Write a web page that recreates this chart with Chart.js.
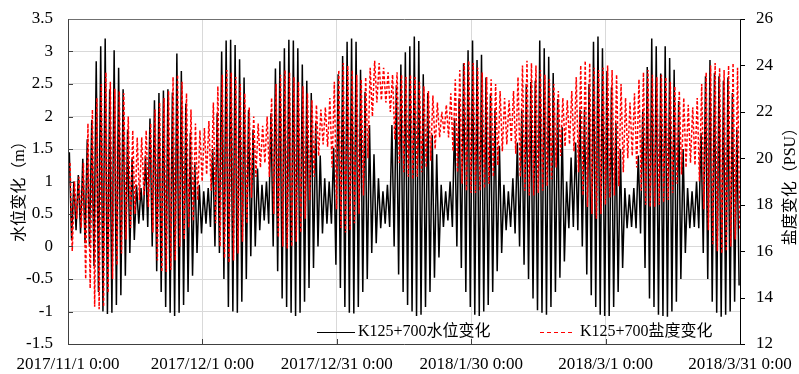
<!DOCTYPE html>
<html>
<head>
<meta charset="utf-8">
<script src="https://cdn.jsdelivr.net/npm/chart.js@4.4.0/dist/chart.umd.min.js"></script>
<style>
  html, body { margin: 0; padding: 0; background: #fff; }
  #wrap { width: 799px; height: 374px; }
</style>
</head>
<body>
<div id="wrap"><canvas id="tide" width="799" height="374"></canvas></div>
<script>
// x ticks every 30 days from 2017/11/1
const dateLabels = ['2017/11/1 0:00', '2017/12/1 0:00', '2017/12/31 0:00',
  '2018/1/30 0:00', '2018/3/1 0:00', '2018/3/31 0:00'];

const levelName = 'K125+700水位变化';
const salinityName = 'K125+700盐度变化';

// daily high / low water level (m), day 0 = 2017/11/1
const levelHigh = [
  1.45, 1.0, 1.1, 1.35, 1.65, 1.95, 2.85, 3.08, 3.2, 2.42,
  3.02, 2.75, 2.42, 1.8, 1.35, 0.95, 0.9, 1.4, 1.97, 2.25,
  2.36, 2.4, 2.42, 2.37, 2.97, 2.7, 2.2, 1.75, 1.3, 0.95,
  0.85, 0.9, 1.5, 2.05, 3.0, 3.17, 3.18, 3.1, 2.88, 2.6,
  2.1, 1.8, 1.2, 0.95, 1.0, 2.05, 2.74, 2.85, 3.05, 3.18,
  3.17, 3.05, 2.8, 2.55, 2.36, 1.9, 1.4, 1.05, 1.0, 1.52,
  2.65, 2.93, 3.15, 3.2, 3.15, 2.72, 2.38, 1.87, 1.42, 1.05,
  0.85, 0.95, 1.87, 2.48, 2.8, 2.99, 3.08, 3.23, 3.16, 2.65,
  2.36, 1.72, 1.42, 0.95, 0.85, 1.0, 1.97, 2.28, 2.82, 3.02,
  3.17, 2.87, 2.95, 2.6, 2.35, 2.1, 1.55, 0.95, 0.85, 1.05,
  1.6, 2.1, 2.5, 2.53, 2.55, 3.17, 3.05, 2.92, 2.67, 2.27,
  1.84, 1.0, 1.37, 1.6, 2.1, 2.1, 2.5, 3.15, 3.23, 3.05,
  2.7, 2.45, 1.9, 1.5, 0.9, 0.8, 0.9, 1.4, 2.1, 2.76,
  3.2, 3.08, 2.66, 3.08, 2.9, 2.72, 2.24, 1.5, 0.9, 0.85,
  1.0, 1.75, 2.62, 2.87, 2.67, 2.62, 2.55, 2.6, 2.36, 1.8
];
const levelLow = [
  0.1, 0.25, 0.2, 0.05, 0.0, -0.3, -0.7, -1.0, -1.04, -1.02,
  -0.9, -0.75, -0.45, -0.1, 0.1, 0.35, 0.4, 0.3, 0.0, -0.38,
  -0.7, -0.93, -1.02, -1.07, -1.02, -0.9, -0.7, -0.45, -0.1, 0.2,
  0.35, 0.3, 0.0, -0.1, -0.5, -0.93, -1.0, -1.02, -0.85, -0.5,
  -0.15, 0.0, 0.25, 0.4, 0.35, 0.0, -0.38, -0.8, -0.93, -1.02,
  -1.07, -1.02, -0.85, -0.64, -0.33, 0.0, 0.2, 0.35, 0.35, -0.28,
  -0.64, -0.93, -1.02, -1.03, -0.93, -0.7, -0.5, -0.1, 0.05, 0.28,
  0.35, 0.3, 0.0, -0.43, -0.7, -0.9, -1.0, -1.07, -1.05, -0.93,
  -0.7, -0.48, -0.17, 0.3, 0.4, 0.3, 0.0, -0.33, -0.7, -0.93,
  -1.05, -1.07, -1.0, -0.9, -0.7, -0.38, -0.1, 0.25, 0.3, 0.2,
  0.0, -0.28, -0.5, -0.8, -0.98, -1.02, -1.05, -0.93, -0.7, -0.48,
  -0.23, 0.28, 0.3, 0.25, 0.0, -0.43, -0.75, -0.93, -1.05, -1.07,
  -1.07, -0.93, -0.7, -0.33, 0.28, 0.3, 0.28, 0.2, -0.33, -0.8,
  -0.93, -1.05, -1.07, -1.08, -1.0, -0.85, -0.5, -0.1, 0.28, 0.3,
  0.28, -0.1, -0.5, -0.85, -1.02, -1.08, -1.05, -1.0, -0.85, -0.6
];

// daily high / low salinity (PSU)
const salinityHigh = [
  19.8, 19.0, 19.2, 19.8, 21.5, 22.1, 22.6, 23.2, 23.7, 23.3,
  23.0, 22.9, 22.8, 21.8, 21.2, 20.9, 20.9, 21.2, 21.5, 22.1,
  22.4, 22.6, 22.9, 23.5, 23.6, 23.3, 22.8, 22.1, 21.5, 21.2,
  21.3, 21.6, 22.4, 23.1, 23.6, 23.8, 23.7, 23.5, 23.2, 22.8,
  22.2, 21.8, 21.5, 21.4, 21.8, 22.6, 23.2, 23.6, 23.8, 23.7,
  23.5, 23.3, 23.1, 22.8, 22.5, 22.3, 22.1, 22.2, 22.6, 23.3,
  23.8, 24.1, 24.0, 23.8, 23.6, 23.4, 23.5, 23.9, 24.2, 24.1,
  23.9, 23.7, 23.6, 23.7, 23.6, 23.5, 23.6, 23.5, 23.3, 23.1,
  22.9, 22.7, 22.4, 22.0, 22.3, 22.8, 23.4, 23.8, 24.1, 24.2,
  24.1, 23.9, 23.7, 23.5, 23.4, 23.2, 22.9, 22.6, 22.5, 22.9,
  23.5, 24.0, 24.2, 24.1, 24.0, 23.8, 23.6, 23.4, 23.2, 22.9,
  22.6, 22.5, 22.9, 23.5, 24.0, 24.2, 24.1, 23.9, 23.8, 23.9,
  24.0, 23.8, 23.6, 23.2, 22.6, 22.4, 22.8, 23.4, 23.7, 23.8,
  23.6, 23.5, 23.6, 23.5, 23.3, 23.1, 22.9, 22.6, 22.3, 22.2,
  22.6, 23.2, 23.7, 24.0, 24.1, 23.9, 23.8, 24.0, 24.1, 23.9
];
const salinityLow = [
  16.0, 17.4, 17.0, 14.8, 14.4, 13.6, 13.5, 13.6, 14.2, 14.8,
  15.4, 15.9, 16.5, 17.0, 17.6, 18.2, 18.4, 17.9, 16.8, 15.6,
  15.1, 15.1, 15.2, 15.6, 16.2, 16.5, 17.0, 17.3, 18.2, 19.0,
  19.3, 18.6, 17.2, 16.2, 15.7, 15.5, 15.6, 15.9, 16.4, 17.2,
  18.3, 19.2, 19.6, 19.8, 19.2, 17.6, 16.6, 16.2, 16.1, 16.2,
  16.4, 16.8, 17.4, 18.2, 19.2, 20.1, 20.6, 20.5, 19.6, 17.8,
  17.0, 16.8, 16.9, 17.2, 17.6, 18.4, 20.0, 21.8, 22.4, 22.5,
  22.4, 22.0, 20.8, 19.8, 19.4, 19.2, 19.1, 19.2, 19.4, 19.6,
  19.9, 20.4, 20.9, 21.1, 20.9, 20.3, 19.4, 18.9, 18.6, 18.5,
  18.5, 18.6, 18.7, 18.9, 19.2, 19.7, 20.3, 20.6, 20.7, 20.2,
  19.2, 18.6, 18.4, 18.4, 18.5, 18.6, 18.8, 19.1, 19.6, 20.1,
  20.5, 20.6, 20.3, 19.4, 18.4, 17.9, 17.6, 17.4, 17.6, 18.0,
  18.3, 18.4, 18.8, 19.4, 20.0, 20.1, 19.6, 18.6, 18.0, 17.9,
  17.9, 18.0, 18.1, 18.2, 18.5, 18.9, 19.3, 19.6, 19.8, 19.7,
  19.0, 17.8, 16.9, 16.3, 16.0, 15.9, 16.0, 16.2, 16.5, 16.9
];

// one high and one low per day, placed at a fixed time of day
function tideSeries(highs, lows, hiAt, loAt) {
  const pts = [];
  highs.forEach((h, i) => {
    pts.push({ x: i + hiAt, y: h });
    pts.push({ x: i + loAt, y: lows[i] });
  });
  return pts;
}

const SERIF = '"Liberation Serif", "Times New Roman", "Noto Sans CJK SC", serif';

const frame = {
  id: 'frame',
  afterDatasetsDraw(chart) {
    const { ctx, chartArea: a, scales } = chart;
    const ys = scales.y, y1 = scales.y1, xs = scales.x;
    ctx.save();
    ctx.lineWidth = 1;

    // tick marks: left and bottom inward, right outward
    ctx.strokeStyle = '#404040';
    ctx.beginPath();
    ys.ticks.forEach(t => {
      const py = Math.round(ys.getPixelForValue(t.value)) + 0.5;
      ctx.moveTo(a.left, py); ctx.lineTo(a.left + 5, py);
    });
    xs.ticks.forEach(t => {
      const px = Math.round(xs.getPixelForValue(t.value)) + 0.5;
      ctx.moveTo(px, a.bottom); ctx.lineTo(px, a.bottom - 5);
    });
    ctx.stroke();
    ctx.strokeStyle = '#000';
    ctx.beginPath();
    y1.ticks.forEach(t => {
      const py = Math.round(y1.getPixelForValue(t.value)) + 0.5;
      ctx.moveTo(a.right, py); ctx.lineTo(a.right + 5, py);
    });
    ctx.stroke();

    // plot frame
    const L = Math.round(a.left) + 0.5, R = Math.round(a.right) + 0.5;
    const T = Math.round(a.top) + 0.5, B = Math.round(a.bottom) + 0.5;
    ctx.strokeStyle = '#707070';
    ctx.beginPath(); ctx.moveTo(L, T); ctx.lineTo(R, T); ctx.stroke();
    ctx.strokeStyle = '#404040';
    ctx.beginPath(); ctx.moveTo(L, T); ctx.lineTo(L, B); ctx.lineTo(R, B); ctx.stroke();
    ctx.strokeStyle = '#000';
    ctx.beginPath(); ctx.moveTo(R, T); ctx.lineTo(R, B); ctx.stroke();

    // legend along the bottom of the plot
    const ly = a.bottom - 12;
    const lx = a.left + 249;
    ctx.font = '16px ' + SERIF;
    ctx.textBaseline = 'middle';
    ctx.fillStyle = '#000';
    ctx.strokeStyle = '#000';
    ctx.beginPath(); ctx.moveTo(lx, ly + 0.5); ctx.lineTo(lx + 38, ly + 0.5); ctx.stroke();
    ctx.fillText(levelName, lx + 41, ly);
    ctx.strokeStyle = '#ff0000';
    ctx.setLineDash([4, 3]);
    ctx.beginPath(); ctx.moveTo(lx + 223, ly + 0.5); ctx.lineTo(lx + 258, ly + 0.5); ctx.stroke();
    ctx.setLineDash([]);
    ctx.fillText(salinityName, lx + 263, ly);

    // axis titles, both reading bottom to top
    const midY = (a.top + a.bottom) / 2;
    ctx.textAlign = 'center';
    ctx.save();
    ctx.translate(20, midY + 6);
    ctx.rotate(-Math.PI / 2);
    ctx.fillText('水位变化（m）', 0, 0);
    ctx.restore();
    ctx.save();
    ctx.translate(791, midY + 1);
    ctx.rotate(-Math.PI / 2);
    ctx.fillText('盐度变化（PSU）', 0, 0);
    ctx.restore();

    ctx.restore();
  }
};

const tickFont = { family: SERIF, size: 17 };

new Chart(document.getElementById('tide'), {
  type: 'line',
  data: {
    datasets: [
      {
        label: salinityName,
        data: tideSeries(salinityHigh, salinityLow, 0.45, 0.95),
        yAxisID: 'y1',
        borderColor: '#ff0000',
        borderWidth: 1.5,
        borderDash: [3, 2],
        pointRadius: 0,
        tension: 0
      },
      {
        label: levelName,
        data: tideSeries(levelHigh, levelLow, 0.3, 0.8),
        yAxisID: 'y',
        borderColor: '#000000',
        borderWidth: 1.5,
        pointRadius: 0,
        tension: 0
      }
    ]
  },
  options: {
    responsive: false,
    animation: false,
    layout: { padding: { top: 19, left: 0, right: 0, bottom: 0 } },
    plugins: { legend: { display: false }, tooltip: { enabled: false } },
    scales: {
      x: {
        type: 'linear',
        min: 0,
        max: 150,
        ticks: {
          stepSize: 30,
          color: '#000',
          font: tickFont,
          padding: 10,
          maxRotation: 0,
          callback: v => dateLabels[Math.round(v / 30)]
        },
        grid: { color: '#d9d9d9', drawTicks: false },
        border: { display: false },
        afterFit: s => { s.height = 30; s.paddingLeft = 0; s.paddingRight = 0; }
      },
      y: {
        position: 'left',
        min: -1.5,
        max: 3.5,
        ticks: {
          stepSize: 0.5,
          color: '#000',
          font: tickFont,
          padding: 15,
          callback: v => String(Math.round(v * 10) / 10)
        },
        grid: { color: '#d9d9d9', drawTicks: false },
        border: { display: false },
        afterFit: s => { s.width = 68; s.paddingTop = 0; s.paddingBottom = 0; }
      },
      y1: {
        position: 'right',
        min: 12,
        max: 26,
        ticks: {
          stepSize: 2,
          color: '#000',
          font: tickFont,
          padding: 16
        },
        grid: { display: false, drawTicks: false },
        border: { display: false },
        afterFit: s => { s.width = 59; s.paddingTop = 0; s.paddingBottom = 0; }
      }
    }
  },
  plugins: [frame]
});
</script>
</body>
</html>
